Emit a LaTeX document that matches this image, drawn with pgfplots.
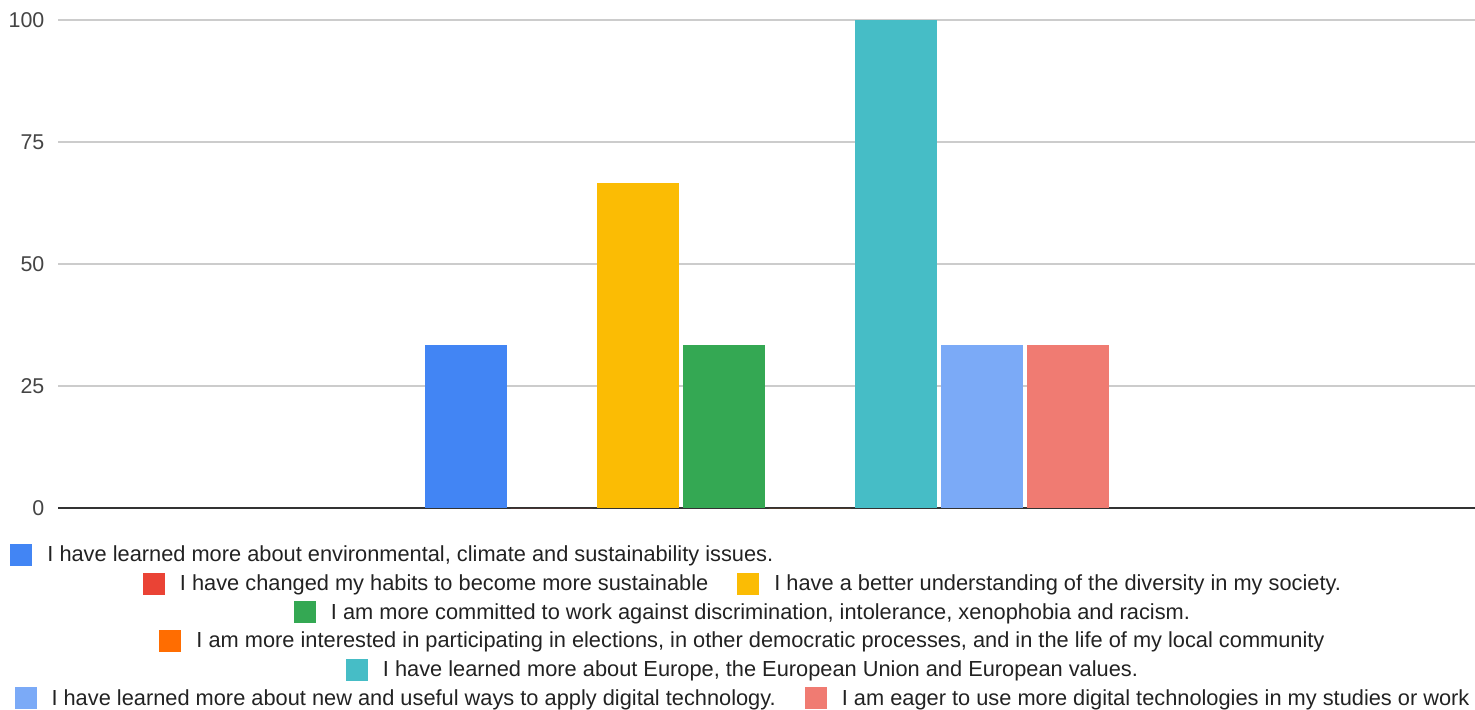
\documentclass[border=0pt]{standalone}
\usepackage{pgfplots}
\pgfplotsset{compat=1.18}
\usepackage{fontspec}
\setmainfont{Liberation Sans}

\definecolor{cblue}{HTML}{4285F4}
\definecolor{cred}{HTML}{EA4335}
\definecolor{cyellow}{HTML}{FBBC04}
\definecolor{cgreen}{HTML}{34A853}
\definecolor{corange}{HTML}{FF6D01}
\definecolor{cteal}{HTML}{46BDC6}
\definecolor{clightblue}{HTML}{7BAAF7}
\definecolor{csalmon}{HTML}{F07B72}
\definecolor{gridgray}{HTML}{CCCCCC}
\definecolor{axisgray}{HTML}{333333}
\definecolor{ticktext}{HTML}{444444}
\definecolor{legtext}{HTML}{222222}

% legend swatch
\newcommand{\sq}[1]{{\color{#1}\rule[-2.2pt]{11pt}{11pt}}}
\newcommand{\lfont}{\fontsize{10.9}{12}\selectfont\color{legtext}}

\begin{document}
\begin{tikzpicture}
\path[use as bounding box] (0,0) rectangle (737.5pt,-355pt);
\begin{axis}[
    at={(29pt,-254pt)}, anchor=south west,
    scale only axis, width=708.5pt, height=244pt,
    xmin=-1, xmax=1, ymin=0, ymax=100,
    ybar=2pt, bar width=41pt,
    xtick=\empty, ytick={0,25,50,75,100},
    ymajorgrids, grid style={color=gridgray, line width=0.75pt},
    axis x line*=bottom, axis y line*=left,
    y axis line style={draw=none},
    x axis line style={-, draw=axisgray, line width=1pt},
    major tick length=0pt,
    yticklabel style={font=\fontsize{10.7}{12}\selectfont, text=ticktext, xshift=-3.3pt},
    /pgf/number format/assume math mode=true,
]
\addplot[fill=cblue, draw=none] coordinates {(0,33.33)};
\addplot[fill=cred, draw=none] coordinates {(0,0)};
\addplot[fill=cyellow, draw=none] coordinates {(0,66.67)};
\addplot[fill=cgreen, draw=none] coordinates {(0,33.33)};
\addplot[fill=corange, draw=none] coordinates {(0,0)};
\addplot[fill=cteal, draw=none] coordinates {(0,100)};
\addplot[fill=clightblue, draw=none] coordinates {(0,33.33)};
\addplot[fill=csalmon, draw=none] coordinates {(0,33.33)};
\end{axis}

\node[anchor=base west, inner sep=0pt] at (5pt,-280.85pt)
  {\lfont\sq{cblue}\hspace{7.5pt}I have learned more about environmental, climate and sustainability issues.};
\node[anchor=base, inner sep=0pt] at (371pt,-295.15pt)
  {\lfont\sq{cred}\hspace{7.5pt}I have changed my habits to become more sustainable\hspace{14.5pt}\sq{cyellow}\hspace{7.5pt}I have a better understanding of the diversity in my society.};
\node[anchor=base, inner sep=0pt] at (371pt,-309.5pt)
  {\lfont\sq{cgreen}\hspace{7.5pt}I am more committed to work against discrimination, intolerance, xenophobia and racism.};
\node[anchor=base, inner sep=0pt] at (371pt,-323.85pt)
  {\lfont\sq{corange}\hspace{7.5pt}I am more interested in participating in elections, in other democratic processes, and in the life of my local community};
\node[anchor=base, inner sep=0pt] at (371pt,-338.15pt)
  {\lfont\sq{cteal}\hspace{7.5pt}I have learned more about Europe, the European Union and European values.};
\node[anchor=base, inner sep=0pt] at (371pt,-352.5pt)
  {\lfont\sq{clightblue}\hspace{7.5pt}I have learned more about new and useful ways to apply digital technology.\hspace{14.5pt}\sq{csalmon}\hspace{7.5pt}I am eager to use more digital technologies in my studies or work};
\end{tikzpicture}
\end{document}
